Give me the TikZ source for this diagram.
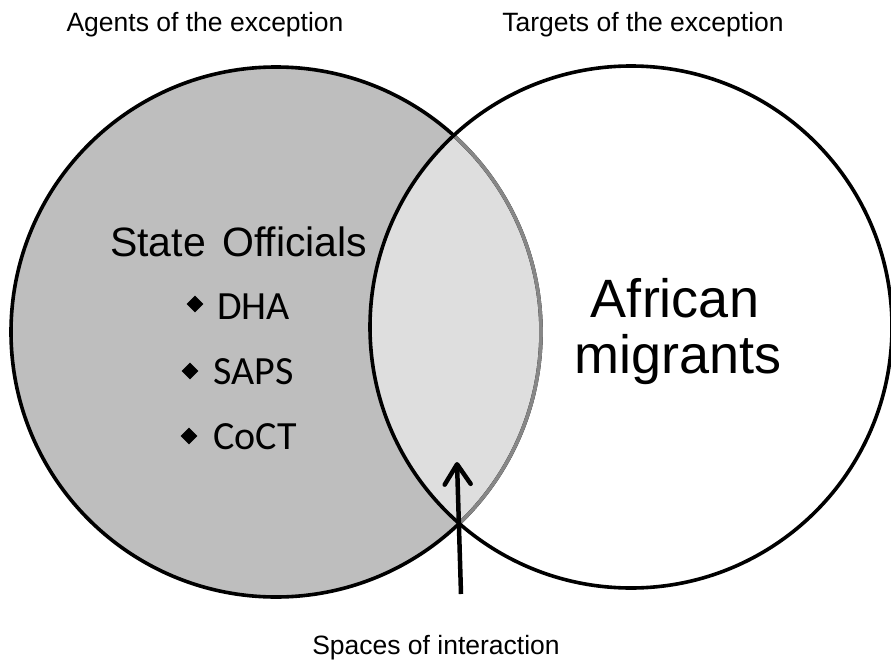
\documentclass[tikz,border=0pt]{standalone}
\usepackage{fontspec}
\setmainfont{Liberation Sans}
\newfontfamily\bulletfont{Carlito}
\usetikzlibrary{arrows.meta,shapes.geometric}
\definecolor{agentgray}{gray}{0.745}
\definecolor{lensgray}{gray}{0.871}
\definecolor{lensedge}{gray}{0.53}
\begin{document}
\begin{tikzpicture}[x=1pt,y=-1pt,
  ring/.style={line width=3.6pt},
  caption/.style={inner sep=0pt,font=\fontsize{26.5}{30}\selectfont},
  bigtext/.style={inner sep=0pt,font=\fontsize{54}{56}\selectfont},
  midtext/.style={inner sep=0pt,font=\fontsize{41}{44}\selectfont},
  itemtext/.style={inner sep=0pt,font=\bulletfont\fontsize{40}{44}\selectfont},
  itemmark/.style={diamond,fill=black,inner sep=0pt,minimum width=17pt,minimum height=17pt},
  pointer/.style={line width=4.5pt,-{Straight Barb[length=20pt,width=26pt,round]}}]
\useasboundingbox (0,0) rectangle (891,661);

% circles: agents (left) and targets (right)
\def\lc{(276,332) circle[radius=265]}
\def\rc{(631,327) circle[radius=261]}

\fill[agentgray] \lc;
\begin{scope}
  \clip \lc;
  \fill[lensgray] \rc;
\end{scope}
\draw[ring] \lc;
\begin{scope}
  \clip \rc;
  \draw[ring,lensedge] \lc;
\end{scope}
\draw[ring] \rc;

% headings
\node[caption,anchor=base] (agents) at (205,32) {Agents of the exception};
\node[caption,anchor=base] (targets) at (643,32) {Targets of the exception};
\node[caption,anchor=base] (spaces) at (436,654) {Spaces of interaction};

% left circle contents
\node[midtext,anchor=base west] (state) at (110,256) {State\hspace{0.12em} Officials};
\node[itemmark] (b1) at (195,304) {};
\node[itemtext,anchor=base west] (dha) at (217,319) {DHA};
\node[itemmark] (b2) at (190,371) {};
\node[itemtext,anchor=base west] (saps) at (213,384) {SAPS};
\node[itemmark] (b3) at (189,436) {};
\node[itemtext,anchor=base west] (coct) at (213,449) {CoCT};

% right circle contents
\node[bigtext,anchor=base] (african) at (675,317) {African};
\node[bigtext,anchor=base] (migrants) at (678,373) {migrants};

% arrow pointing into the overlap
\coordinate (tail) at (461,594);
\coordinate (tip) at (457,462);
\draw[pointer] (tail) -- (tip);
\end{tikzpicture}
\end{document}
